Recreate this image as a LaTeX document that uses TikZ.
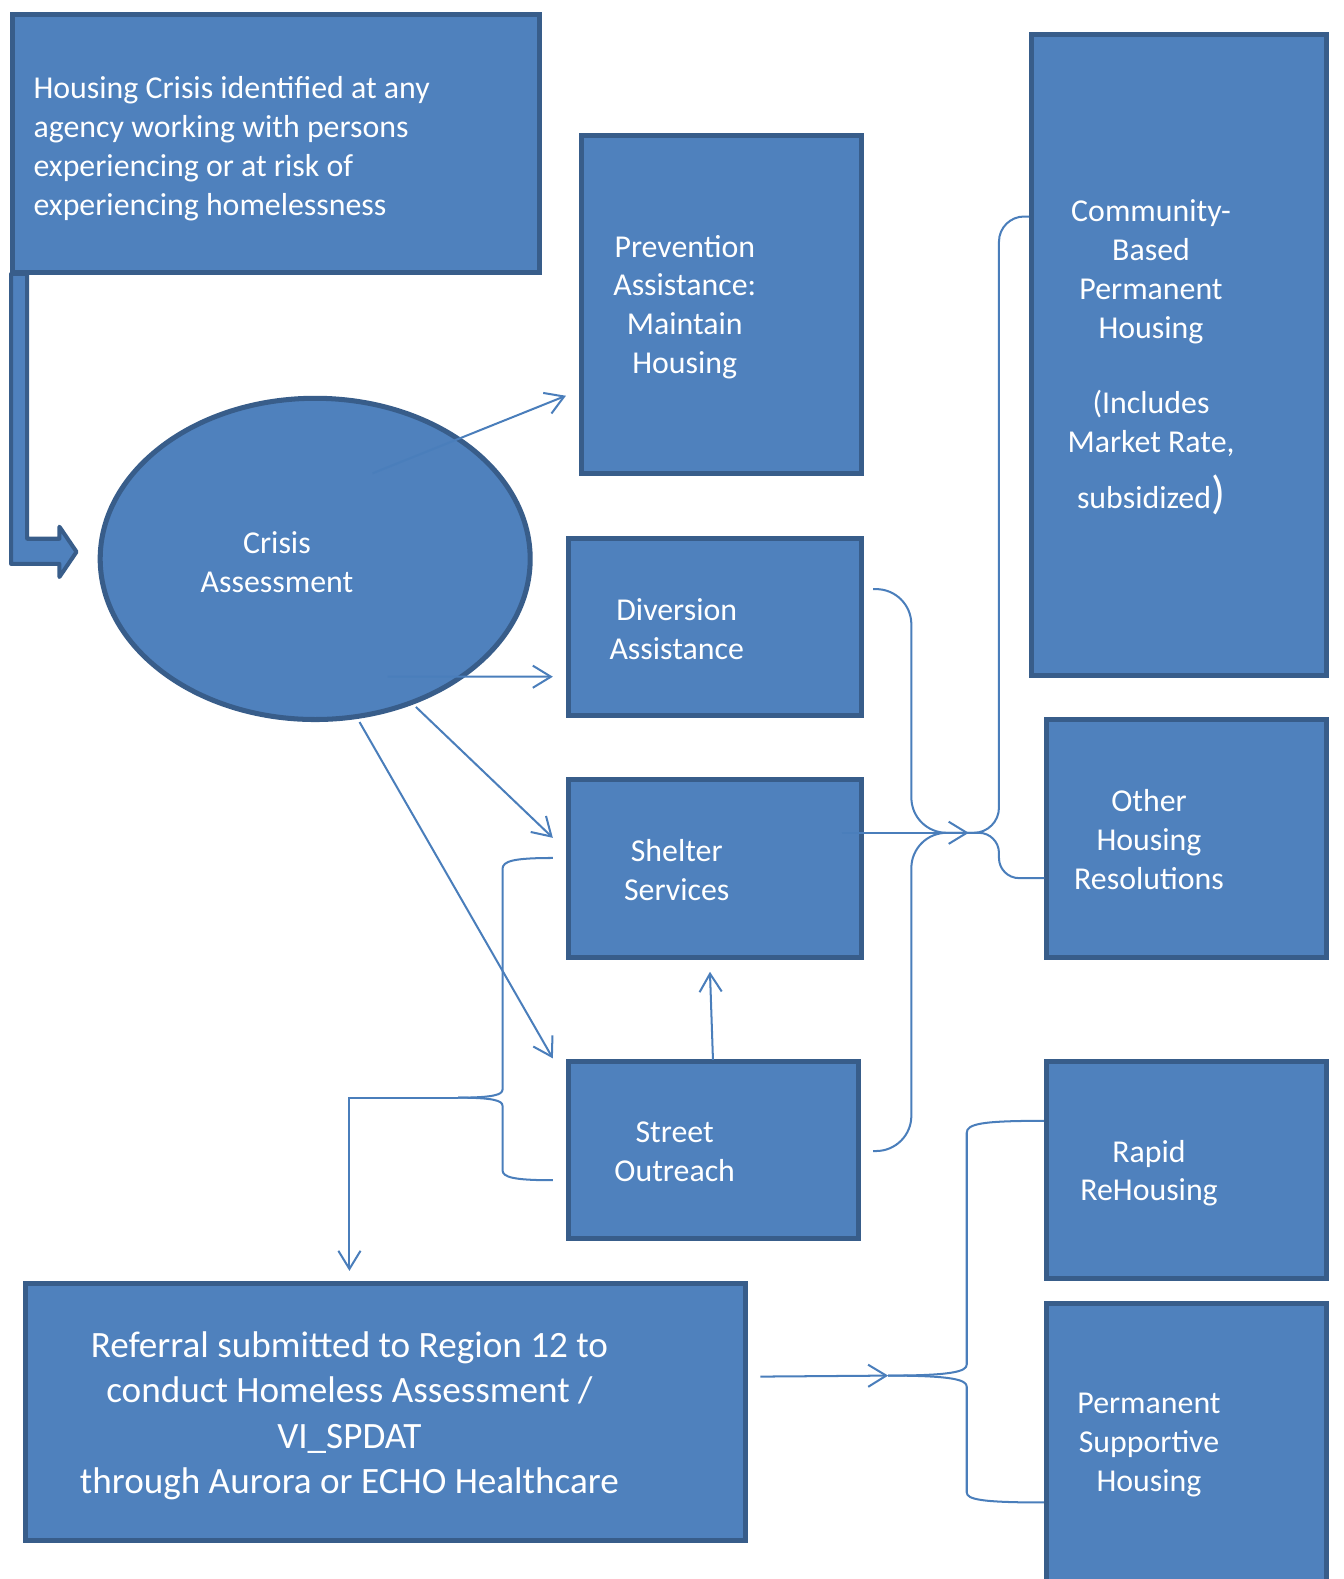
\documentclass[tikz,border=0pt]{standalone}
\usepackage{fontspec}
\setmainfont{Carlito}
\usepackage{tikz}
\usetikzlibrary{arrows.meta,shapes.geometric}
\usepackage{xcolor}
\definecolor{boxblue}{HTML}{4F81BD}
\definecolor{boxedge}{HTML}{385D8A}
\definecolor{linkblue}{HTML}{4A7EBB}
\tikzstyle{hbox} = [rectangle, draw=boxedge, fill=boxblue, line width=1mm, outer sep=0pt, inner sep=0pt]
\tikzstyle{htext} = [text=white, align=center, inner sep=0pt, font=\fontsize{18}{22}\selectfont]
\tikzstyle{conn} = [draw=linkblue, line width=0.4mm]
\tikzstyle{arrow} = [conn, -{Straight Barb[length=3.6mm,width=4.4mm]}]

\begin{document}
\begin{tikzpicture}[x=0.2mm, y=-0.2mm]
\useasboundingbox (0,0) rectangle (1334,1568);
% Block arrow into the assessment
\draw[fill=boxblue, draw=boxedge, line width=0.8mm, line join=round] (27,272) -- (27,535) -- (59,535) -- (59,523) -- (76,548) -- (59,573) -- (59,560) -- (11,560) -- (11,272) -- cycle;
% Boxes
\node[hbox, minimum width=104.6mm, minimum height=51.2mm] (idbox) at (274,142.5) {};
\node[hbox, minimum width=55.6mm, minimum height=67.2mm] (prev) at (716.5,302.5) {};
\node[ellipse, draw=boxedge, fill=boxblue, line width=1mm, outer sep=0pt, inner sep=0pt, minimum width=85.4mm, minimum height=63.8mm] (crisis) at (313,555) {};
\node[hbox, minimum width=58.2mm, minimum height=35.2mm] (div) at (710,622.5) {};
\node[hbox, minimum width=58.2mm, minimum height=35.2mm] (shel) at (710,862.5) {};
\node[hbox, minimum width=57.6mm, minimum height=35mm] (street) at (708.5,1142) {};
\node[hbox, minimum width=58.6mm, minimum height=127.2mm] (comm) at (1171,352.5) {};
\node[hbox, minimum width=55.6mm, minimum height=47.2mm] (other) at (1178.5,832.5) {};
\node[hbox, minimum width=55.6mm, minimum height=43mm] (rapid) at (1178.5,1162) {};
\node[hbox, minimum width=55.6mm, minimum height=62.6mm] (psh) at (1178.5,1451) {};
\node[hbox, minimum width=143mm, minimum height=51mm] (refer) at (383,1402) {};
% Texts
\node[htext, align=left, anchor=west] (idtext) at (33,147.5) {Housing Crisis identified at any\\agency working with persons\\experiencing or at risk of\\experiencing homelessness};
\node[htext] (prevtext) at (680,305) {Prevention\\Assistance:\\Maintain\\Housing};
\node[htext] (crisistext) at (275,558) {Crisis\\Assessment};
\node[htext] (divtext) at (672,625) {Diversion\\Assistance};
\node[htext] (sheltext) at (672,864) {Shelter\\Services};
\node[htext] (streettext) at (670,1144) {Street\\Outreach};
\node[htext] (commtext) at (1143,355) {Community-\\Based\\Permanent\\Housing\\[7.2mm](Includes\\Market Rate,\\[3.5mm]subsidized{\fontsize{26}{30}\selectfont)}};
\node[htext] (othertext) at (1141,834) {Other\\Housing\\Resolutions};
\node[htext] (rapidtext) at (1141,1165) {Rapid\\ReHousing};
\node[htext] (pshtext) at (1141,1435) {Permanent\\Supportive\\Housing};
\node[htext, font=\fontsize{21}{25.6}\selectfont] (refertext) at (347,1406) {Referral submitted to Region 12 to\\conduct Homeless Assessment /\\VI\_SPDAT\\through Aurora or ECHO Healthcare};
% Arrows out of the assessment
\draw[arrow] ([shift={(57,-85)}]crisis.center) -- ([shift={(-15.5,90.5)}]prev.west);
\draw[arrow] ([shift={(72,117)}]crisis.center) -- ([shift={(-15.5,49.5)}]div.west);
\draw[arrow] ([shift={(100,147)}]crisis.center) -- ([shift={(-15.5,-30.5)}]shel.west);
\draw[arrow] ([shift={(44,162)}]crisis.center) -- ([shift={(-15.5,-3.5)}]street.north west);
\draw[arrow] ([shift={(-0.5,-2)}]street.north) -- ([shift={(-5,14.5)}]shel.south);
% Braces meeting at the hub
\coordinate (hub) at (947,827);
\draw[conn, rounded corners=7mm] ([shift={(11.5,-37.5)}]div.east) -| ([shift={(-42,0)}]hub) -- (hub);
\draw[conn, rounded corners=7mm] (hub) -- ([shift={(-42,0)}]hub) |- ([shift={(14.5,1)}]street.east);
\draw[conn, rounded corners=5mm] ([shift={(-2.5,-137.5)}]comm.west) -| ([shift={(45,0)}]hub) -- (hub);
\draw[conn, rounded corners=4mm] (hub) -- ([shift={(45,0)}]hub) |- ([shift={(-2.5,39.5)}]other.west);
\draw[arrow] ([shift={(-19.5,-35.5)}]shel.east) -- ([shift={(15,0)}]hub);
% Brace down to the referral
\coordinate (ltip) at (455,1090);
\draw[conn] ([shift={(-15.5,-10.5)}]shel.west) .. controls (510,852) and (499,855) .. (499,863) -- (499,1082) .. controls (499,1087) and (490,1090) .. (ltip);
\draw[conn] (ltip) .. controls (490,1090) and (499,1093) .. (499,1098) -- (499,1162) .. controls (499,1169) and (510,1172) .. ([shift={(-15.5,30)}]street.west);
\draw[arrow] (ltip) -| ([shift={(-36,-12.5)}]refer.north);
% Brace from the referral
\coordinate (btip) at (882,1366);
\draw[arrow] ([shift={(14.5,-35)}]refer.east) -- (btip);
\draw[conn] ([shift={(-3,-49)}]rapid.west) .. controls (975,1113) and (960,1116) .. (960,1125) -- (960,1355) .. controls (960,1362) and (945,1366) .. (btip);
\draw[conn] (btip) .. controls (945,1366) and (960,1370) .. (960,1377) -- (960,1482) .. controls (960,1489) and (975,1492) .. ([shift={(-3,41)}]psh.west);
\end{tikzpicture}
\end{document}
